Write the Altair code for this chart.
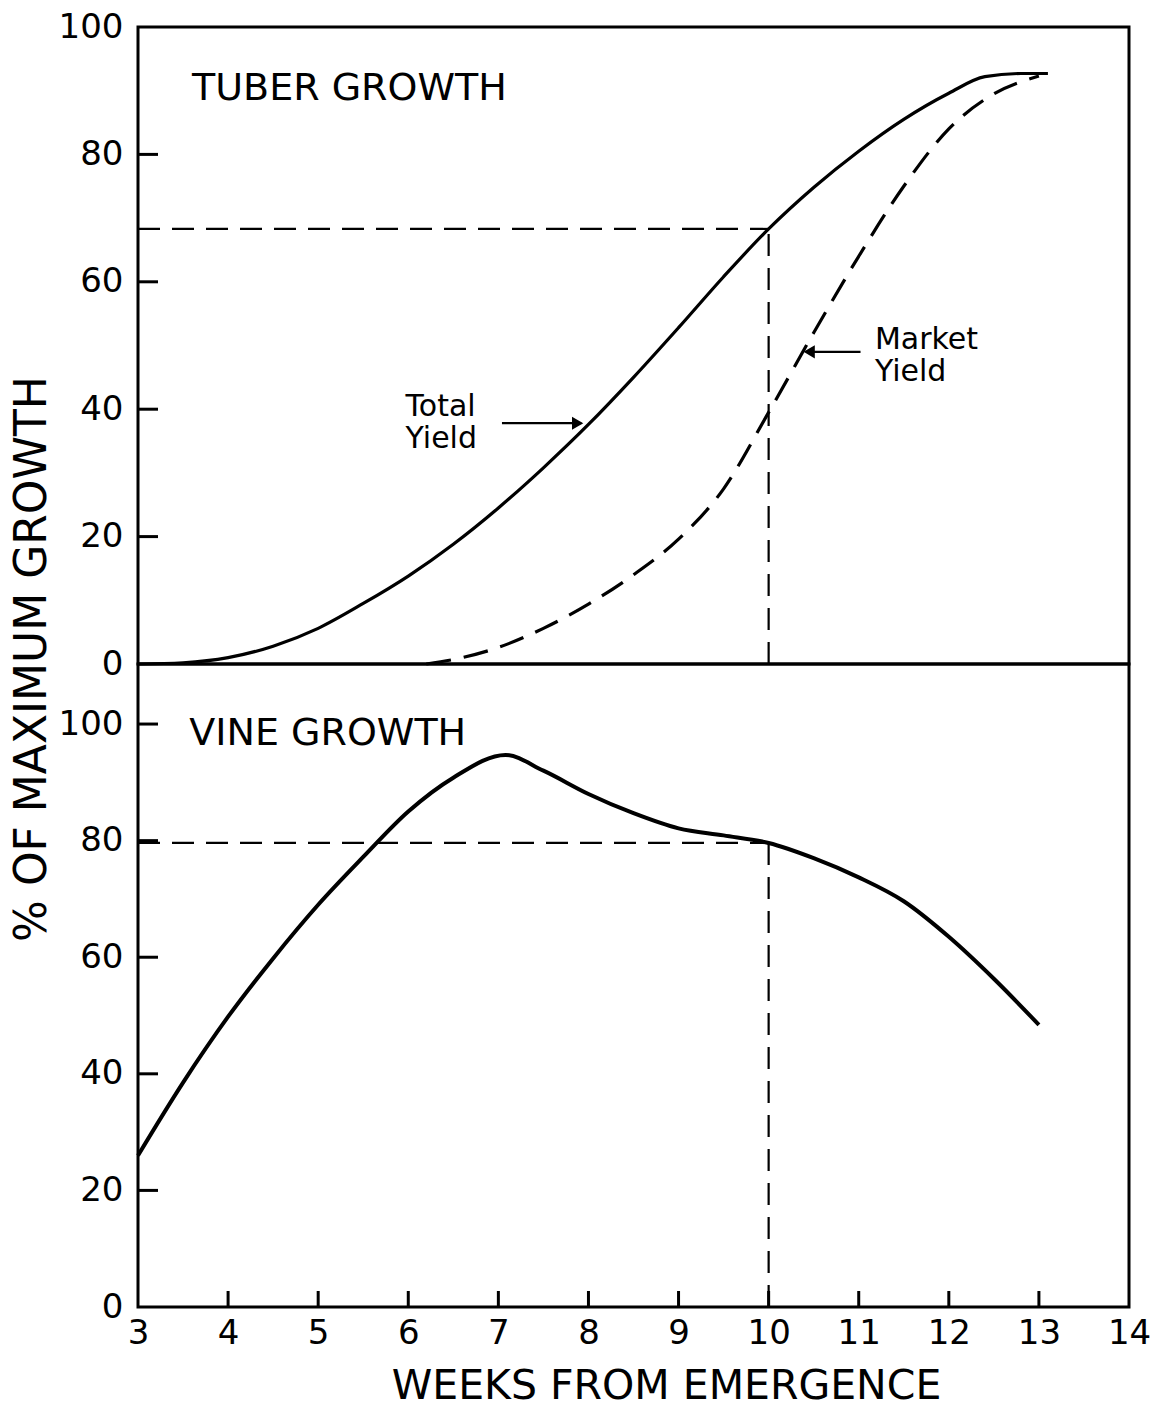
import altair as alt
import pandas as pd

# ---------------- data ----------------
total_weeks = [3.0, 3.5, 4.0, 4.5, 5.0, 5.5, 6.0, 6.5, 7.0, 7.5, 8.0, 8.5, 9.0,
               9.5, 10.0, 10.5, 11.0, 11.5, 12.0, 12.4, 12.8, 13.1]
total_pct = [0.0, 0.2, 1.0, 2.8, 5.6, 9.5, 13.8, 18.8, 24.5, 30.8, 37.6, 45.0, 52.8,
             60.8, 68.3, 74.8, 80.5, 85.5, 89.6, 92.2, 92.7, 92.7]

market_weeks = [6.2, 6.6, 7.0, 7.5, 8.0, 8.5, 9.0, 9.5, 10.0, 10.5, 11.0, 11.5,
                12.0, 12.5, 13.0]
market_pct = [0.0, 1.0, 2.6, 5.6, 9.4, 14.0, 19.6, 27.5, 39.5, 52.0, 64.0, 75.0,
              84.0, 89.5, 92.3]

vine_weeks = [3.0, 3.5, 4.0, 4.5, 5.0, 5.5, 6.0, 6.5, 7.08, 7.5, 8.0, 8.5, 9.0,
              9.5, 10.0, 10.5, 11.0, 11.5, 12.0, 12.5, 13.0]
vine_pct = [26.0, 38.5, 49.8, 59.8, 69.0, 77.2, 85.0, 90.8, 94.7, 92.0, 88.0, 84.7,
            82.1, 80.9, 79.6, 77.0, 73.7, 69.6, 63.5, 56.3, 48.4]

x_tick_labels = list(range(3, 15))
x_inner_ticks = list(range(4, 14))
y_tick_labels = [0, 20, 40, 60, 80, 100]
y_inner_ticks_top = [20, 40, 60, 80]
y_inner_ticks_bottom = [20, 40, 60, 80, 100]

ref_week = 10
tuber_at_ref = 68.3
vine_at_ref = 79.6

# ---------------- styling ----------------
FONT = "DejaVu Sans"
W = 991
H_TOP = 637
H_BOT = 643
BOT_MAX = 110.3

xs = alt.Scale(domain=[3, 14], nice=False, zero=False)
ys_top = alt.Scale(domain=[0, 100], nice=False)
ys_bot = alt.Scale(domain=[0, BOT_MAX], nice=False)

total_df = pd.DataFrame({"week": total_weeks, "pct": total_pct})
market_df = pd.DataFrame({"week": market_weeks, "pct": market_pct})
vine_df = pd.DataFrame({"week": vine_weeks, "pct": vine_pct})
xt_df = pd.DataFrame({"week": x_inner_ticks})
yt_top_df = pd.DataFrame({"pct": y_inner_ticks_top})
yt_bot_df = pd.DataFrame({"pct": y_inner_ticks_bottom})
one = pd.DataFrame({"k": [0]})


def label(x, y, text, size, ys):
    return alt.Chart(one).mark_text(
        align="left", baseline="middle", font=FONT, fontSize=size, color="black",
        lineBreak="\n", lineHeight=32,
    ).encode(x=alt.datum(x, scale=xs), y=alt.datum(y, scale=ys), text=alt.value(text))


def hrule(x1, x2, y, ys, dash=None, width=2.2):
    kw = dict(color="black", strokeWidth=width)
    if dash:
        kw["strokeDash"] = dash
    return alt.Chart(one).mark_rule(**kw).encode(
        x=alt.datum(x1, scale=xs), x2=alt.datum(x2), y=alt.datum(y, scale=ys))


def vrule(x, y1, y2, ys, dash=None, width=2.2):
    kw = dict(color="black", strokeWidth=width)
    if dash:
        kw["strokeDash"] = dash
    return alt.Chart(one).mark_rule(**kw).encode(
        x=alt.datum(x, scale=xs), y=alt.datum(y1, scale=ys), y2=alt.datum(y2))


def arrowhead(x, y, shape):
    return alt.Chart(one).mark_point(shape=shape, filled=True, size=170,
                                     color="black", opacity=1).encode(
        x=alt.datum(x, scale=xs), y=alt.datum(y, scale=ys_top))


y_axis_top = alt.Axis(values=y_tick_labels, title=None, format="d")
y_axis_bot = alt.Axis(values=y_tick_labels, title=None, format="d")
x_axis_bot = alt.Axis(values=x_tick_labels, title="WEEKS FROM EMERGENCE",
                      format="d", labelOverlap=False, labelFlush=False,
                      labelPadding=9, titleX=528, titlePadding=16)

# ---------------- top panel: tuber growth ----------------
total_line = alt.Chart(total_df).mark_line(
    color="black", strokeWidth=3.2, interpolate="monotone"
).encode(
    x=alt.X("week:Q", scale=xs, axis=None),
    y=alt.Y("pct:Q", scale=ys_top, axis=y_axis_top),
)
market_line = alt.Chart(market_df).mark_line(
    color="black", strokeWidth=3.2, strokeDash=[25, 13], interpolate="monotone"
).encode(x=alt.X("week:Q", scale=xs, axis=None), y=alt.Y("pct:Q", scale=ys_top))

top_yticks = alt.Chart(yt_top_df).mark_rule(color="black", strokeWidth=3).encode(
    y=alt.Y("pct:Q", scale=ys_top), x=alt.value(0), x2=alt.value(20))

top = alt.layer(
    total_line,
    market_line,
    hrule(3, ref_week, tuber_at_ref, ys_top, dash=[22, 12]),
    vrule(ref_week, 0, tuber_at_ref, ys_top, dash=[22, 12]),
    top_yticks,
    label(3.6, 90.3, "TUBER GROWTH", 38, ys_top),
    label(5.97, 40.3, "Total\nYield", 30, ys_top),
    label(11.18, 50.9, "Market\nYield", 30, ys_top),
    hrule(7.04, 7.92, 37.8, ys_top, width=2.2),
    arrowhead(7.88, 37.8, "triangle-right"),
    hrule(10.45, 11.02, 49.0, ys_top, width=2.2),
    arrowhead(10.45, 49.0, "triangle-left"),
).properties(width=W, height=H_TOP)

# ---------------- bottom panel: vine growth ----------------
vine_line = alt.Chart(vine_df).mark_line(
    color="black", strokeWidth=4, interpolate="monotone"
).encode(
    x=alt.X("week:Q", scale=xs, axis=x_axis_bot),
    y=alt.Y("pct:Q", scale=ys_bot, axis=y_axis_bot),
)
bot_yticks = alt.Chart(yt_bot_df).mark_rule(color="black", strokeWidth=3).encode(
    y=alt.Y("pct:Q", scale=ys_bot), x=alt.value(0), x2=alt.value(20))
bot_xticks = alt.Chart(xt_df).mark_rule(color="black", strokeWidth=3).encode(
    x=alt.X("week:Q", scale=xs), y=alt.value(H_BOT), y2=alt.value(H_BOT - 16))
y_title = alt.Chart(one).mark_text(
    angle=270, align="center", baseline="middle", font=FONT, fontSize=44, color="black"
).encode(x=alt.value(-105), y=alt.value(-5), text=alt.value("% OF MAXIMUM GROWTH"))

bottom = alt.layer(
    vine_line,
    hrule(3, ref_week, vine_at_ref, ys_bot, dash=[22, 12]),
    vrule(ref_week, 0, vine_at_ref, ys_bot, dash=[22, 12]),
    bot_yticks,
    bot_xticks,
    label(3.57, 98.3, "VINE GROWTH", 38, ys_bot),
    y_title,
).properties(width=W, height=H_BOT)

chart = alt.vconcat(top, bottom, spacing=0, bounds="flush").properties(
    padding={"left": 9, "top": 8, "right": 0, "bottom": 0},
    background="white",
).configure_view(
    stroke="black", strokeWidth=3
).configure_axis(
    ticks=False, domain=False, grid=False,
    labelFont=FONT, labelFontSize=34, labelColor="black", labelPadding=15,
    labelOverlap=False,
    titleFont=FONT, titleFontSize=41, titleFontWeight="normal", titleColor="black",
)

chart.save("out.html", embed_options={"renderer": "svg", "actions": False})
